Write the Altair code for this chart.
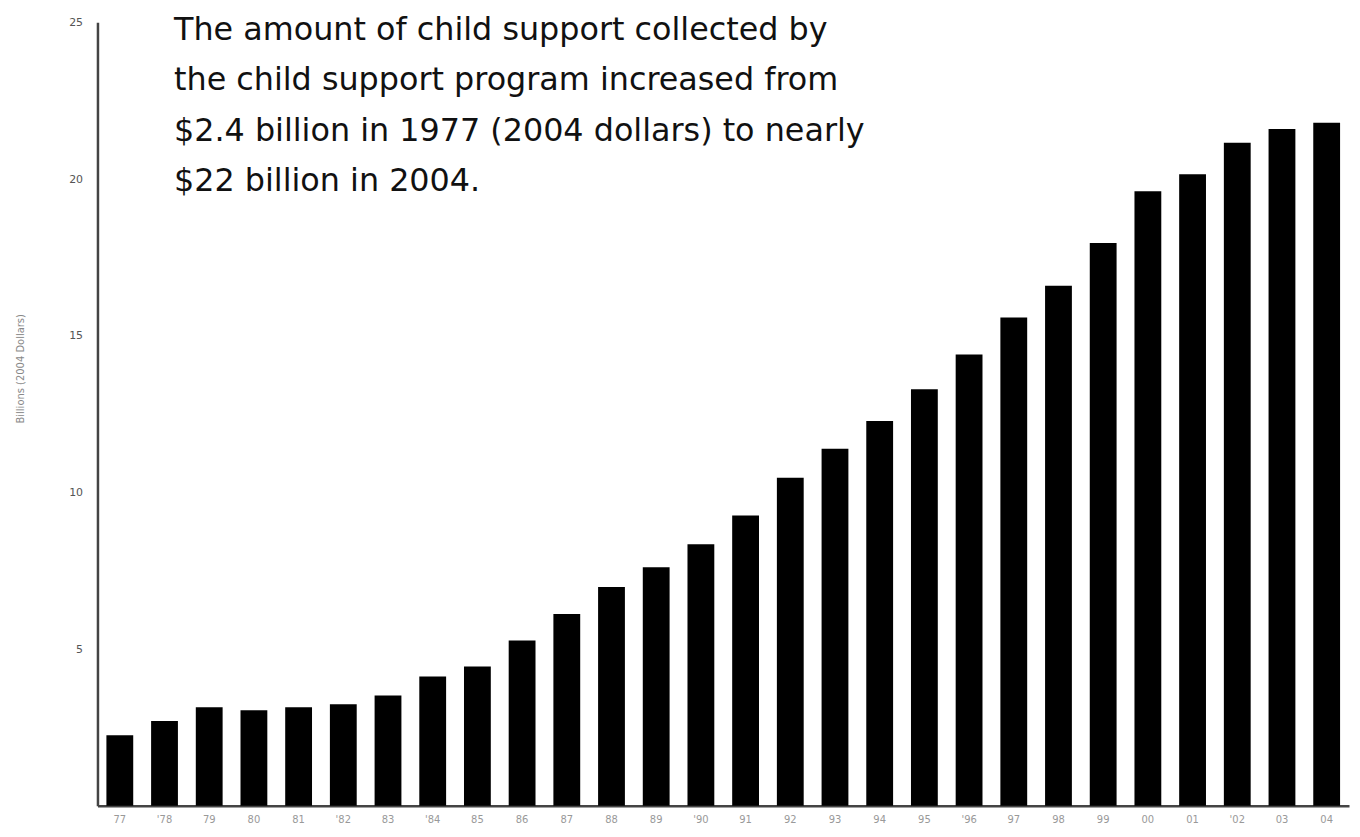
import altair as alt
import pandas as pd

years = ["77", "'78", "79", "80", "81", "'82", "83", "'84", "85", "86",
         "87", "88", "89", "'90", "91", "92", "93", "94", "95", "'96",
         "97", "98", "99", "00", "01", "'02", "03", "04"]
billions = [2.25, 2.70, 3.14, 3.05, 3.14, 3.24, 3.52, 4.12, 4.44, 5.27,
            6.12, 6.98, 7.61, 8.34, 9.26, 10.47, 11.39, 12.28, 13.29, 14.40,
            15.58, 16.59, 17.96, 19.61, 20.15, 21.16, 21.60, 21.80]
y_ticks = [5, 10, 15, 20, 25]
note_lines = [
    "The amount of child support collected by",
    "the child support program increased from",
    "$2.4 billion in 1977 (2004 dollars) to nearly",
    "$22 billion in 2004.",
]

df = pd.DataFrame({"year": years, "value": billions})
note_df = pd.DataFrame({"note": ["\n".join(note_lines)]})

bars = alt.Chart(df).mark_bar(color="black").encode(
    x=alt.X("year:N", sort=years,
            scale=alt.Scale(paddingInner=0.4, paddingOuter=0.2),
            axis=alt.Axis(title=None, labelAngle=0, ticks=False, tickSize=0,
                          labelPadding=9, labelFontSize=10, labelColor="#999999",
                          labelFont="DejaVu Sans",
                          domainColor="#444444", domainWidth=2.5)),
    y=alt.Y("value:Q", scale=alt.Scale(domain=[0, 25], nice=False),
            axis=alt.Axis(title="Billions (2004 Dollars)", values=y_ticks,
                          grid=False, ticks=False, tickSize=0, labelPadding=15,
                          labelFontSize=11, labelColor="#555555",
                          labelFont="DejaVu Sans",
                          titleFontSize=10, titleColor="#888888",
                          titleFont="DejaVu Sans", titleFontWeight="normal",
                          titleX=-72, titleY=348,
                          domainColor="#444444", domainWidth=2.5)),
)

note = alt.Chart(note_df).mark_text(
    align="left", baseline="alphabetic", lineBreak="\n", lineHeight=50.5,
    fontSize=32, font="DejaVu Sans", fontWeight="normal", color="#111111",
).encode(
    text="note:N",
    x=alt.value(77),
    y=alt.value(18),
)

chart = alt.layer(bars, note).properties(
    width=1259,
    height=788,
    autosize=alt.AutoSizeParams(type="none"),
    padding={"left": 90, "top": 12, "right": 3, "bottom": 21},
).configure_view(stroke=None)

chart.save("out.html", embed_options={"renderer": "svg", "actions": False})
